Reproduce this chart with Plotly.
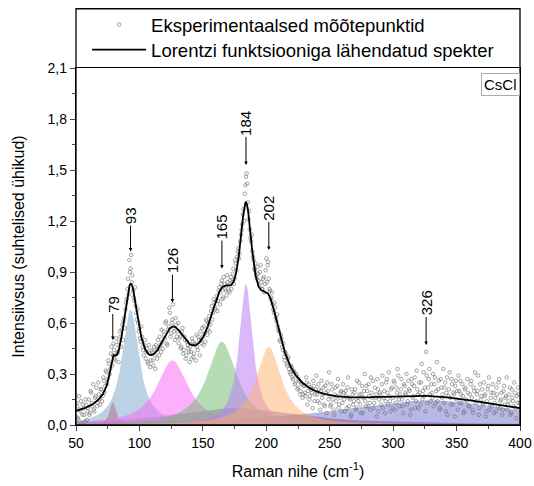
import numpy as np
import plotly.graph_objects as go

# ---- experimental points: first set at integer shifts 50..400 ----
exp_x1 = list(range(50, 401))
exp_y1 = [
 0.05, 0.11, 0.03, 0.09, 0.14, 0.06, 0.10, 0.02, 0.12, 0.08,
 0.15, 0.07, 0.19, 0.11, 0.09, 0.16, 0.22, 0.13, 0.18, 0.12,
 0.21, 0.17, 0.26, 0.23, 0.31, 0.27, 0.36, 0.33, 0.46, 0.41,
 0.44, 0.38, 0.47, 0.43, 0.49, 0.52, 0.56, 0.50, 0.63, 0.68,
 0.74, 0.86, 0.97, 0.92, 0.84, 0.79, 0.73, 0.70, 0.62, 0.60,
 0.57, 0.49, 0.52, 0.44, 0.47, 0.39, 0.45, 0.36, 0.42, 0.38,
 0.43, 0.35, 0.41, 0.47, 0.39, 0.45, 0.52, 0.43, 0.49, 0.55,
 0.51, 0.61, 0.47, 0.58, 0.66, 0.54, 0.62, 0.57, 0.50, 0.59,
 0.55, 0.48, 0.52, 0.46, 0.57, 0.44, 0.50, 0.41, 0.47, 0.43,
 0.46, 0.39, 0.49, 0.42, 0.47, 0.53, 0.44, 0.50, 0.55, 0.48,
 0.52, 0.58, 0.49, 0.61, 0.56, 0.64, 0.59, 0.70, 0.66, 0.72,
 0.69, 0.76, 0.73, 0.81, 0.78, 0.85, 0.75, 0.83, 0.79, 0.88,
 0.82, 0.78, 0.87, 0.84, 0.92, 0.86, 0.95, 0.99, 1.04, 1.01,
 1.12, 1.18, 1.27, 1.36, 1.46, 1.42, 1.21, 1.15, 1.08, 1.02,
 0.97, 0.91, 0.88, 0.93, 0.85, 0.90, 0.84, 0.80, 0.87, 0.83,
 0.98, 0.94, 0.86, 0.79, 0.75, 0.71, 0.66, 0.69, 0.61, 0.58,
 0.55, 0.49, 0.51, 0.44, 0.40, 0.43, 0.36, 0.39, 0.33, 0.30,
 0.34, 0.27, 0.31, 0.25, 0.29, 0.22, 0.26, 0.20, 0.24, 0.18,
 0.23, 0.17, 0.25, 0.20, 0.15, 0.22, 0.19, 0.26, 0.14, 0.21,
 0.18, 0.24, 0.13, 0.20, 0.16, 0.22, 0.11, 0.19, 0.25, 0.15,
 0.17, 0.12, 0.21, 0.09, 0.18, 0.14, 0.23, 0.10, 0.16, 0.20,
 0.13, 0.19, 0.08, 0.17, 0.22, 0.11, 0.15, 0.06, 0.18, 0.14,
 0.21, 0.10, 0.16, 0.25, 0.12, 0.18, 0.07, 0.20, 0.14, 0.23,
 0.11, 0.17, 0.09, 0.19, 0.26, 0.13, 0.16, 0.05, 0.21, 0.15,
 0.18, 0.24, 0.10, 0.20, 0.14, 0.27, 0.12, 0.17, 0.08, 0.22,
 0.16, 0.25, 0.13, 0.19, 0.29, 0.11, 0.21, 0.15, 0.07, 0.23,
 0.18, 0.12, 0.26, 0.20, 0.09, 0.24, 0.17, 0.28, 0.14, 0.21,
 0.10, 0.19, 0.25, 0.15, 0.31, 0.22, 0.43, 0.13, 0.27, 0.18,
 0.24, 0.16, 0.11, 0.28, 0.20, 0.14, 0.26, 0.09, 0.22, 0.18,
 0.13, 0.25, 0.19, 0.06, 0.21, 0.16, 0.27, 0.12, 0.18, 0.23,
 0.15, 0.09, 0.20, 0.26, 0.13, 0.17, 0.08, 0.22, 0.14, 0.19,
 0.11, 0.24, 0.16, 0.07, 0.20, 0.13, 0.18, 0.29, 0.10, 0.15,
 0.21, 0.12, 0.17, 0.05, 0.14, 0.23, 0.09, 0.16, 0.11, 0.19,
 0.13, 0.08, 0.18, 0.25, 0.10, 0.15, 0.06, 0.20, 0.12, 0.17,
 0.09, 0.14, 0.22, 0.07, 0.16, 0.11, 0.19, 0.04, 0.13, 0.18,
 0.10,
]

# ---- experimental points: second set at half-integer shifts 50.5..399.5 ----
exp_x2 = [v + 0.5 for v in range(50, 400)]
exp_y2 = [
 0.13, 0.04, 0.17, 0.08, 0.01, 0.12, 0.06, 0.15, 0.03, 0.10,
 0.06, 0.20, 0.13, 0.24, 0.08, 0.17, 0.11, 0.25, 0.15, 0.21,
 0.14, 0.28, 0.19, 0.32, 0.24, 0.38, 0.30, 0.42, 0.35, 0.48,
 0.39, 0.51, 0.42, 0.37, 0.55, 0.46, 0.59, 0.61, 0.57, 0.72,
 0.80, 0.77, 0.90, 1.00, 0.88, 0.75, 0.81, 0.66, 0.68, 0.55,
 0.51, 0.58, 0.46, 0.41, 0.50, 0.43, 0.37, 0.47, 0.34, 0.44,
 0.38, 0.46, 0.33, 0.44, 0.50, 0.41, 0.47, 0.56, 0.45, 0.53,
 0.60, 0.48, 0.56, 0.69, 0.52, 0.60, 0.71, 0.55, 0.63, 0.52,
 0.60, 0.51, 0.45, 0.55, 0.42, 0.52, 0.39, 0.49, 0.45, 0.37,
 0.43, 0.51, 0.40, 0.48, 0.38, 0.46, 0.52, 0.41, 0.50, 0.57,
 0.47, 0.54, 0.62, 0.53, 0.60, 0.55, 0.67, 0.62, 0.74, 0.68,
 0.73, 0.67, 0.79, 0.71, 0.83, 0.74, 0.87, 0.80, 0.76, 0.84,
 0.79, 0.85, 0.80, 0.89, 0.83, 0.97, 0.91, 1.02, 0.98, 1.08,
 1.15, 1.24, 1.20, 1.41, 1.48, 1.31, 1.26, 1.10, 1.12, 0.99,
 0.92, 0.95, 0.86, 0.89, 0.82, 0.94, 0.80, 0.86, 0.78, 0.91,
 0.84, 0.96, 0.80, 0.74, 0.78, 0.68, 0.72, 0.63, 0.65, 0.56,
 0.50, 0.53, 0.46, 0.48, 0.38, 0.42, 0.35, 0.40, 0.31, 0.35,
 0.28, 0.32, 0.24, 0.30, 0.21, 0.27, 0.18, 0.25, 0.16, 0.23,
 0.19, 0.28, 0.12, 0.24, 0.17, 0.21, 0.10, 0.23, 0.18, 0.29,
 0.14, 0.21, 0.09, 0.26, 0.18, 0.12, 0.23, 0.07, 0.20, 0.31,
 0.11, 0.24, 0.15, 0.06, 0.22, 0.17, 0.27, 0.12, 0.19, 0.08,
 0.24, 0.15, 0.20, 0.10, 0.28, 0.16, 0.05, 0.21, 0.12, 0.19,
 0.09, 0.26, 0.14, 0.18, 0.07, 0.23, 0.16, 0.30, 0.11, 0.20,
 0.24, 0.13, 0.28, 0.16, 0.10, 0.22, 0.18, 0.27, 0.08, 0.19,
 0.12, 0.29, 0.16, 0.07, 0.25, 0.19, 0.31, 0.14, 0.21, 0.10,
 0.26, 0.09, 0.22, 0.33, 0.15, 0.18, 0.27, 0.11, 0.24, 0.19,
 0.30, 0.14, 0.21, 0.06, 0.27, 0.16, 0.23, 0.10, 0.32, 0.18,
 0.25, 0.12, 0.36, 0.20, 0.17, 0.08, 0.29, 0.22, 0.33, 0.14,
 0.19, 0.30, 0.24, 0.13, 0.37, 0.21, 0.10, 0.27, 0.16, 0.33,
 0.22, 0.08, 0.28, 0.17, 0.31, 0.12, 0.24, 0.19, 0.05, 0.26,
 0.20, 0.29, 0.13, 0.18, 0.24, 0.07, 0.21, 0.15, 0.27, 0.11,
 0.18, 0.26, 0.09, 0.22, 0.31, 0.14, 0.20, 0.06, 0.24, 0.17,
 0.13, 0.25, 0.18, 0.08, 0.21, 0.28, 0.12, 0.19, 0.24, 0.07,
 0.16, 0.22, 0.11, 0.27, 0.14, 0.19, 0.09, 0.23, 0.16, 0.28,
 0.12, 0.18, 0.06, 0.21, 0.14, 0.25, 0.10, 0.17, 0.22, 0.13,
]

# ---- Lorentz components: centre, height, half width ----
peak_centers = [328, 175, 79, 93, 126, 165, 184, 202]
peak_heights = [0.145, 0.10, 0.137, 0.68, 0.38, 0.49, 0.83, 0.46]
peak_hwhm = [88, 60, 3, 8, 15, 14, 6.5, 12]
peak_colors = [
    "rgba(125,125,210,0.55)",
    "rgba(125,70,165,0.45)",
    "rgba(235,60,70,0.65)",
    "rgba(140,180,210,0.60)",
    "rgba(250,110,245,0.55)",
    "rgba(110,185,105,0.50)",
    "rgba(190,125,250,0.55)",
    "rgba(255,175,105,0.50)",
]

# ---- peak labels ----
label_texts = ["79", "93", "126", "165", "184", "202", "326"]
label_x = [79, 93, 126, 165, 184, 202, 326]
label_head_y = [0.50, 1.02, 0.72, 0.92, 1.53, 1.03, 0.47]

x_tick_vals = [50, 100, 150, 200, 250, 300, 350, 400]

xs = np.linspace(50, 400, 1401)


def lorentz(x, c, h, g):
    return h / (1 + ((x - c) / g) ** 2)


fig = go.Figure()
total = np.zeros_like(xs)
for c, h, g, col in zip(peak_centers, peak_heights, peak_hwhm, peak_colors):
    comp = lorentz(xs, c, h, g)
    total += comp
    fig.add_trace(go.Scatter(x=xs, y=comp, mode="lines", fill="tozeroy",
                             fillcolor=col, line=dict(width=0, color=col),
                             showlegend=False, hoverinfo="skip"))

fig.add_trace(go.Scatter(x=exp_x1 + exp_x2, y=exp_y1 + exp_y2, mode="markers",
                         name="Eksperimentaalsed mõõtepunktid", legend="legend",
                         marker=dict(symbol="circle-open", size=3.5,
                                     color="#6a6a6a", line=dict(width=0.6))))
fig.add_trace(go.Scatter(x=xs, y=total, mode="lines",
                         name="Lorentzi funktsiooniga lähendatud spekter", legend="legend2",
                         line=dict(color="black", width=1.8)))

font_family = "Liberation Sans, Arial, sans-serif"

for t, lx, ly in zip(label_texts, label_x, label_head_y):
    fig.add_annotation(x=lx, y=ly, xref="x", yref="y", text=t, textangle=-90,
                       showarrow=True, ax=0, ay=-36 if len(t) == 2 else -42,
                       arrowhead=2, arrowsize=0.7, arrowwidth=1, arrowcolor="black",
                       font=dict(size=15, color="black", family=font_family),
                       borderpad=1)

fig.add_annotation(x=1, y=0.985, xref="paper", yref="paper", text="CsCl",
                   showarrow=False, xanchor="right", yanchor="top",
                   font=dict(size=15, color="black", family=font_family),
                   bgcolor="white", bordercolor="#aaaaaa", borderwidth=1, borderpad=2)

# outer frame including legend area
fig.add_shape(type="rect", xref="paper", yref="paper", x0=0, x1=1, y0=0, y1=1.166,
              line=dict(color="black", width=1.3), layer="above")

W, H = 534, 486
legend_common = dict(x=0.025, xanchor="left", yanchor="middle", yref="container",
                     font=dict(size=18.5, family=font_family), bgcolor="rgba(0,0,0,0)",
                     itemwidth=54)

fig.update_layout(
    width=W, height=H,
    margin=dict(l=76, r=14, t=68, b=61, autoexpand=False),
    paper_bgcolor="white", plot_bgcolor="white",
    separators=",.",
    font=dict(family=font_family, size=14, color="black"),
    showlegend=True,
    legend=dict(y=1 - 25 / H, **legend_common),
    legend2=dict(y=1 - 50 / H, **legend_common),
    xaxis=dict(range=[50, 400], tickvals=x_tick_vals, ticks="outside", ticklen=5,
               tickwidth=1.2, showline=True, linecolor="black", linewidth=1.3,
               mirror=True, showgrid=False, zeroline=False, automargin=False,
               minor=dict(dtick=25, tick0=50, ticks="outside", ticklen=3, tickwidth=1),
               title=dict(text="Raman nihe (cm<sup>-1</sup>)", font=dict(size=16)),
               tickfont=dict(size=14)),
    yaxis=dict(range=[0, 2.1], dtick=0.3, tick0=0, tickformat=".1f", ticks="outside",
               ticklen=5, tickwidth=1.2, showline=True, linecolor="black", linewidth=1.3,
               mirror=True, showgrid=False, zeroline=False, automargin=False,
               minor=dict(dtick=0.15, tick0=0, ticks="outside", ticklen=3, tickwidth=1),
               title=dict(text="Intensiivsus (suhtelised ühikud)", font=dict(size=16),
                          standoff=18),
               tickfont=dict(size=14)),
)

fig.write_html("out.html",
               config={"displayModeBar": False},
               post_script="document.body.style.margin='0';"
                           "document.body.style.overflow='hidden';")
